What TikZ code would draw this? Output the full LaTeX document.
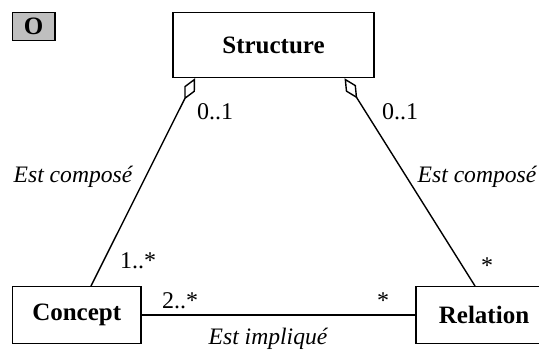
\documentclass[tikz,border=0pt]{standalone}
\usepackage{fontspec}
\setmainfont{Liberation Serif}
\usetikzlibrary{arrows.meta}

\begin{document}
\begin{tikzpicture}[x=0.5pt,y=-0.5pt,
  every node/.style={font=\fontsize{12}{14}\selectfont},
  classe/.style={draw,line width=0.7pt,fill=white,font=\fontsize{12.5}{14}\selectfont\bfseries,inner sep=0pt},
  agreg/.style={{Diamond[open,length=12pt,width=6pt]}-,line width=0.7pt},
  assoc/.style={line width=0.7pt},
  mult/.style={inner sep=0pt},
  role/.style={font=\fontsize{11.8}{14}\selectfont\itshape,inner sep=0pt}]
\useasboundingbox (0,0) rectangle (539,360);
% classes
\node[classe,fill=gray!50,minimum width=21.3pt,minimum height=14pt] (o) at (33.7,26.5) {O};
\node[classe,minimum width=100.5pt,minimum height=32.5pt] (structure) at (273.5,45) {Structure};
\node[classe,minimum width=64.3pt,minimum height=28.3pt] (concept) at (76.7,315) {Concept};
\node[classe,minimum width=68pt,minimum height=28.3pt] (relation) at (484,315) {Relation};
% points d'attache
\coordinate (s1) at ([xshift=-39.25pt]structure.south);
\coordinate (s2) at ([xshift=35.5pt]structure.south);
\coordinate (c1) at ([xshift=7.15pt]concept.north);
\coordinate (r1) at ([xshift=-4.5pt]relation.north);
% associations
\draw[agreg] (s1) -- (c1);
\draw[agreg] (s2) -- (r1);
\draw[assoc] (concept) -- (relation);
% multiplicites et roles
\node[mult] (m1) at (215,112) {0..1};
\node[mult] (m2) at (400,112) {0..1};
\node[mult] (m3) at (138,261) {1..*};
\node[mult] (m4) at (487,266) {*};
\node[mult] (m5) at (180,301) {2..*};
\node[mult] (m6) at (383,301) {*};
\node[role] (r-comp1) at (73,177) {Est composé};
\node[role] (r-comp2) at (477,177) {Est composé};
\node[role] (r-impl) at (268,339) {Est impliqué};
\end{tikzpicture}
\end{document}
